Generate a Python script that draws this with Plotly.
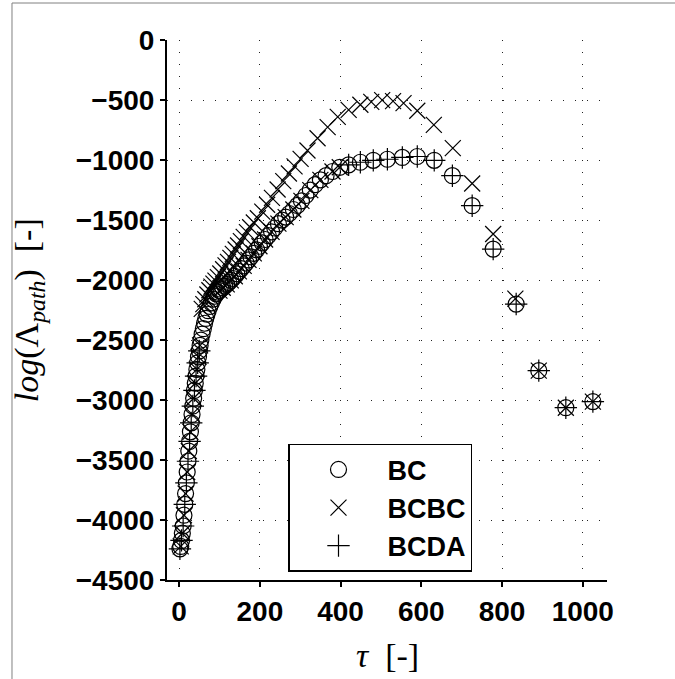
import plotly.graph_objects as go

# ---- data ----
tau_bc = [2,4,6,8,10,12,14,16,18,20,22,24,26,28,30,32,34,36,38,40,42,44,46,48,50,52,54,57,60,63,
          66,69,72,76,80,84,88,92,96,100,104,108,113,118,123,128,133,138,143,148,154,160,166,172,178,
          185,192,199,206,213,221,229,237,246,255,264,273,283,293,303,314,325,337,350,364,380,398,420,449,481,
          516,553,590,632,677,726,778,835,891,958,1025]
y_bc = [-4240,-4220,-4170,-4110,-4050,-3960,-3870,-3780,-3690,-3600,-3510,-3425,-3345,-3265,-3190,
        -3120,-3050,-2985,-2920,-2860,-2800,-2745,-2690,-2640,-2590,-2545,-2500,-2450,-2405,-2360,
        -2320,-2285,-2255,-2220,-2190,-2160,-2135,-2115,-2100,-2088,-2076,-2064,-2050,-2036,-2020,
        -2003,-1987,-1968,-1948,-1927,-1905,-1882,-1858,-1832,-1806,-1777,-1748,-1718,-1690,-1662,
        -1630,-1598,-1566,-1530,-1500,-1475,-1445,-1412,-1378,-1340,-1295,-1250,-1205,-1165,-1130,
        -1095,-1060,-1040,-1018,-1002,-993,-978,-970,-1002,-1130,-1380,-1742,-2200,-2755,-3064,-3013]

tau_bcbc_upper = [56,60,65,70,75,80,85,90,96,102,109,115,121,127,133,140,146,153,160,168,
                  176,185,195,206,218,230,244,258,272,286,301,318,343,368,393,420,449,476,503,530,
                  556,590,631,678,726,778,833,891,958,1025]
y_bcbc_upper = [-2240,-2200,-2160,-2120,-2085,-2055,-2030,-2005,-1975,-1945,-1910,-1878,-1848,-1815,-1782,
                -1745,-1712,-1675,-1640,-1600,-1560,-1520,-1485,-1430,-1372,-1315,-1245,-1175,-1112,-1052,
                -990,-920,-818,-725,-640,-581,-539,-515,-500,-508,-525,-589,-707,-900,-1195,
                -1616,-2155,-2755,-3064,-3013]
tau_bcbc_lower = [4,8,12,16,20,24,28,32,36,40,44,48,52,100,108,118,128,138,148,160,172,185,199,
                  213,229,246,264,283,303,325,350,380,398]
y_bcbc_lower = [-4220,-4110,-3960,-3780,-3600,-3425,-3265,-3120,-2985,-2860,-2745,-2640,-2545,
                -2088,-2064,-2036,-2003,-1968,-1927,-1882,-1832,-1777,-1718,-1662,-1598,-1530,-1475,
                -1412,-1340,-1250,-1165,-1095,-1060]

tau_bcda = [2,6,10,14,18,22,26,30,34,38,42,46,50,420,449,481,516,553,590,632,677,726,778,835,891,958,1025]
y_bcda = [-4240,-4170,-4050,-3870,-3690,-3510,-3345,-3190,-3050,-2920,-2800,-2690,-2590,
          -1040,-1018,-1002,-993,-978,-970,-1002,-1130,-1380,-1742,-2200,-2755,-3064,-3013]

x_ticks = [0, 200, 400, 600, 800, 1000]
y_ticks = [0, -500, -1000, -1500, -2000, -2500, -3000, -3500, -4000, -4500]

names = ["BC", "BCBC", "BCDA"]

fig = go.Figure()

def mk(symbol):
    return dict(symbol=symbol, size=16, color="black", line=dict(color="black", width=1.2))

fig.add_trace(go.Scatter(x=tau_bc, y=y_bc, mode="markers", name=names[0], marker=mk("circle-open")))
fig.add_trace(go.Scatter(x=tau_bcbc_upper + tau_bcbc_lower, y=y_bcbc_upper + y_bcbc_lower,
                         mode="markers", name=names[1], marker=mk("x-thin-open")))
fig.add_trace(go.Scatter(x=tau_bcda, y=y_bcda, mode="markers", name=names[2], marker=mk("cross-thin-open")))

tickfont = dict(family="Liberation Sans", size=28, color="black", weight="bold")

fig.update_layout(
    width=675, height=679,
    margin=dict(l=167, r=68, t=40, b=99),
    paper_bgcolor="white", plot_bgcolor="white",
    showlegend=True,
    legend=dict(x=0.275, y=0.252, xanchor="left", yanchor="top",
                bgcolor="white", bordercolor="black", borderwidth=1.5,
                font=dict(family="Liberation Sans", size=27, color="black", weight="bold"),
                itemwidth=88),
    font=dict(family="Liberation Sans", color="black"),
)

fig.update_xaxes(range=[-30, 1060], tickvals=x_ticks, ticktext=[str(v) for v in x_ticks],
                 showline=True, linecolor="black", linewidth=2,
                 ticks="outside", ticklen=5, tickwidth=2, tickcolor="black",
                 showgrid=True, gridcolor="#222", gridwidth=1, griddash="1px,11px",
                 zeroline=False, tickfont=tickfont)
fig.update_yaxes(range=[-4500, 1], tickvals=y_ticks,
                 ticktext=[("\u2212" + str(-v)) if v < 0 else str(v) for v in y_ticks],
                 showline=True, linecolor="black", linewidth=2,
                 ticks="outside", ticklen=5, tickwidth=2, tickcolor="black",
                 showgrid=True, gridcolor="#222", gridwidth=1, griddash="1px,11px",
                 zeroline=False, tickfont=tickfont)

serif = dict(family="Liberation Serif", size=34, color="black")
fig.add_annotation(x=-0.313, y=0.5, xref="paper", yref="paper", showarrow=False, textangle=-90,
                   text="<i>log</i>(\u039b<sub><i>path</i></sub>)  [-]", font=serif,
                   xanchor="center", yanchor="middle")
fig.add_annotation(x=0.502, y=-0.139, xref="paper", yref="paper", showarrow=False,
                   text="<i>\u03c4</i>  [-]", font=serif, xanchor="center", yanchor="middle")

# outer frame lines (partial)
fig.add_shape(type="line", xref="paper", yref="paper", x0=-0.3523, x1=1.16, y0=1.0685, y1=1.0685,
              line=dict(color="#808080", width=1))
fig.add_shape(type="line", xref="paper", yref="paper", x0=-0.3523, x1=-0.3523, y0=1.0685, y1=-0.19,
              line=dict(color="#808080", width=1))

fig.write_html("out.html")
